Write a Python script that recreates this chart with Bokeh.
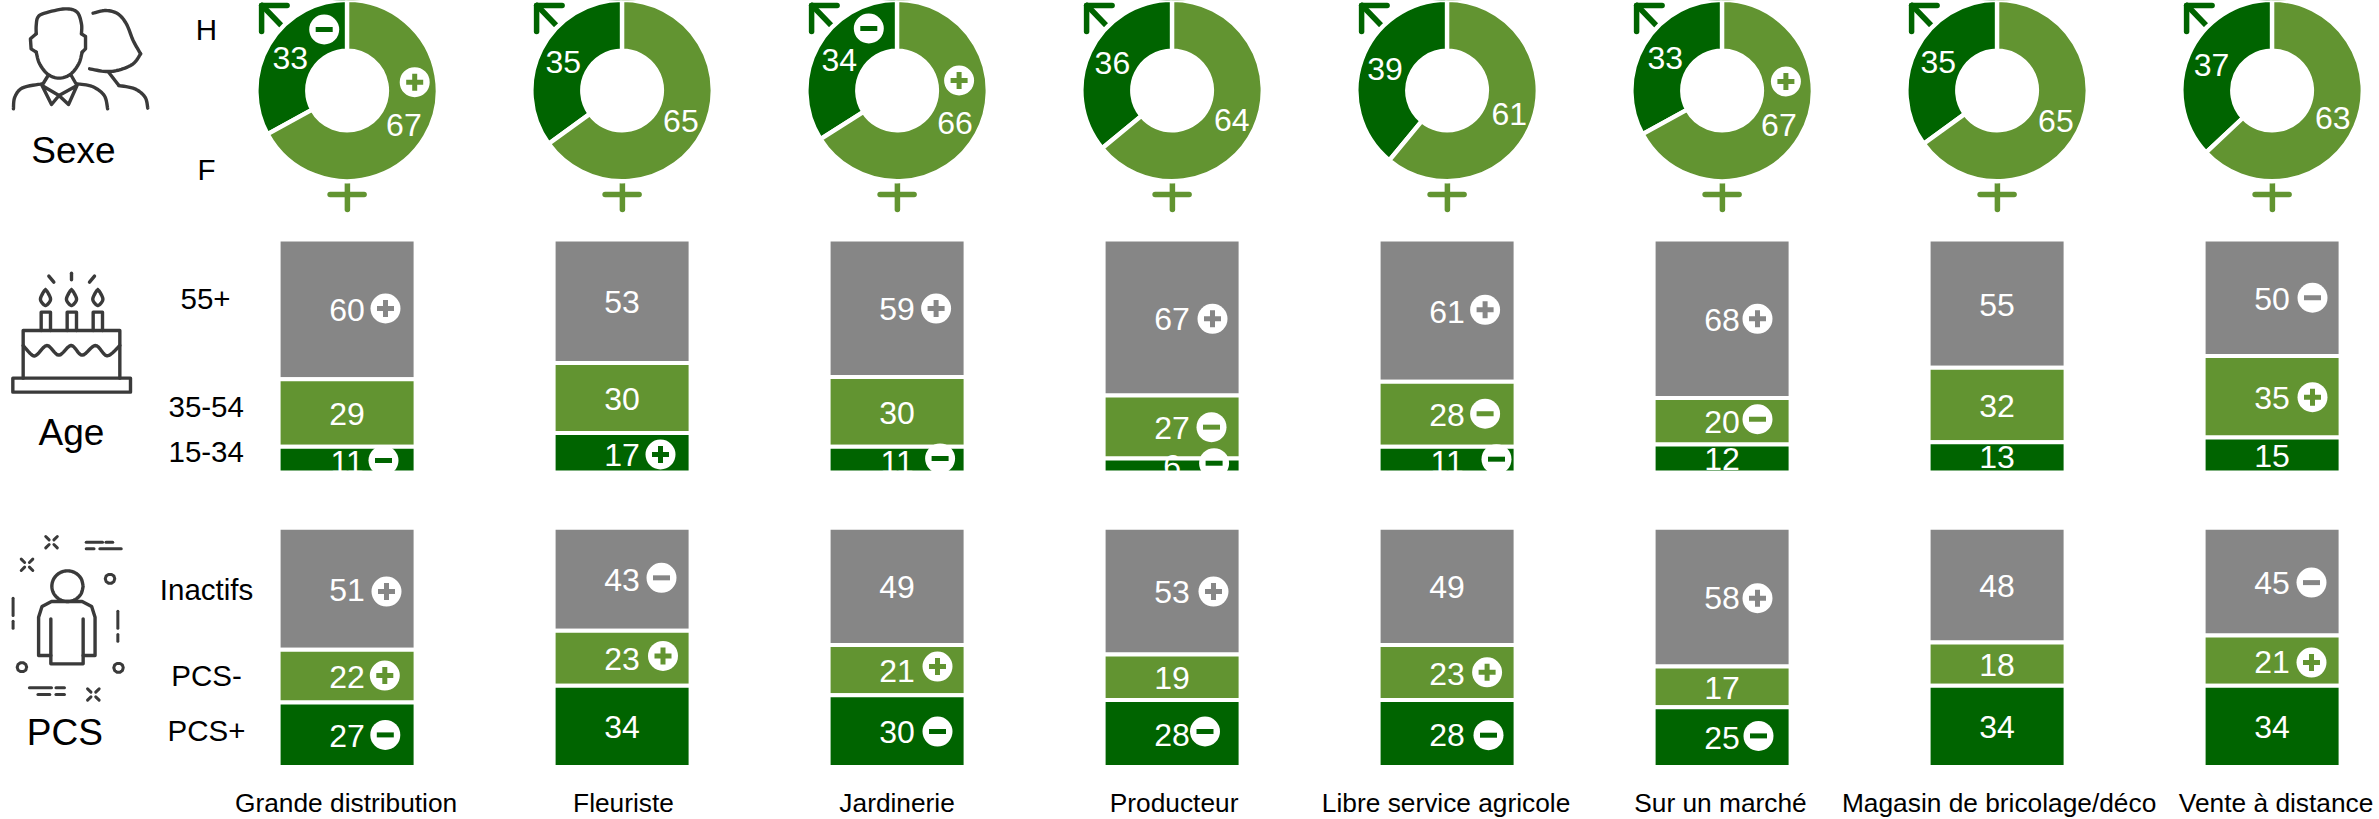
import math
from bokeh.plotting import figure
from bokeh.models import Range1d
from bokeh.core.properties import value
from bokeh.embed import file_html
from bokeh.resources import INLINE

# ---------------- data ----------------
channels = ["Grande distribution", "Fleuriste", "Jardinerie", "Producteur",
            "Libre service agricole", "Sur un marché", "Magasin de bricolage/déco", "Vente à distance"]
sex_h = [33, 35, 34, 36, 39, 33, 35, 37]
sex_f = [67, 65, 66, 64, 61, 67, 65, 63]
age_55 = [60, 53, 59, 67, 61, 68, 55, 50]
age_35 = [29, 30, 30, 27, 28, 20, 32, 35]
age_15 = [11, 17, 11, 6, 11, 12, 13, 15]
pcs_inactifs = [51, 43, 49, 53, 49, 58, 48, 45]
pcs_moins = [22, 23, 21, 19, 23, 17, 18, 21]
pcs_plus = [27, 34, 30, 28, 28, 25, 34, 34]
# significance marks: +1 / -1 / 0
sig_h = [-1, 0, -1, 0, 0, 0, 0, 0]
sig_f = [1, 0, 1, 0, 0, 1, 0, 0]
sig_55 = [1, 0, 1, 1, 1, 1, 0, -1]
sig_35 = [0, 0, 0, -1, -1, -1, 0, 1]
sig_15 = [-1, 1, -1, -1, -1, 0, 0, 0]
sig_in = [1, -1, 0, 1, 0, 1, 0, -1]
sig_mo = [1, 1, 1, 0, 1, 0, 0, 1]
sig_pl = [-1, 0, -1, -1, -1, -1, 0, 0]

# ---------------- layout ----------------
W, H = 2379, 819
DARK, LIGHT, GRAY, INK = "#006400", "#629431", "#868686", "#3a3a3a"
STEP, C0 = 275.0, 346.6
AGE_TOP, AGE_BOT = 239.0, 472.0
PCS_TOP, PCS_BOT = 527.3, 766.5
DONUT_Y, R_OUT, R_IN, R_LABEL = 90.0, 90.7, 39.8, 66.0
age_k = (AGE_BOT - AGE_TOP) / 100
pcs_k = (PCS_BOT - PCS_TOP) / 100
# badge placement (dx from bar centre, dy from segment centre), screen px
age_badge = {(0, 0): (38.4, -.9), (0, 2): (36.4, .8), (1, 2): (38.4, 1.8), (2, 0): (39, .3), (2, 2): (43, -1.2),
             (3, 0): (40.4, 1.3), (3, 1): (39.4, .1), (3, 2): (42, -2.3), (4, 0): (38, -.7), (4, 1): (38, -.5),
             (4, 2): (49.4, -.5), (5, 0): (35.4, .1), (5, 1): (35.4, -2), (7, 0): (40.4, 0), (7, 1): (40.4, .4)}
pcs_badge = {(0, 0): (39.4, 2.8), (0, 1): (37.7, -.5), (0, 2): (38.2, .2), (1, 0): (39.4, -1.4), (1, 1): (40.9, -2.2),
             (2, 1): (40.4, -3.5), (2, 2): (40.4, .4), (3, 0): (41.4, .4), (3, 2): (32.9, -2), (4, 1): (40, -.2),
             (4, 2): (41.4, 1.7), (5, 0): (35.4, 1.1), (5, 2): (36.4, -1.2), (7, 0): (39.4, 1), (7, 1): (39.4, 2)}
donut_badge = {(0, 0): (-22.9, -61), (0, 1): (67.6, -8.3), (2, 0): (-28.3, -62), (2, 1): (62, -10), (5, 1): (63.8, -9)}
label_extra_dy = {(0, 2): 1.5, (1, 2): 1, (2, 2): 1.5, (4, 2): 1.5, (3, 2): -1, (5, 2): -1, (6, 2): -1}
cat_dx = [-1, 1.4, 0, 2, -1, -1.6, 2, 4]

p = figure(width=W, height=H, output_backend="svg", toolbar_location=None,
           x_axis_type=None, y_axis_type=None, min_border=0,
           x_range=Range1d(-C0 / STEP, (W - C0) / STEP), y_range=Range1d(H, 0),
           outline_line_color=None, background_fill_color=None, border_fill_color=None)
p.grid.visible = False
p.extra_x_ranges["px"] = Range1d(0, W)
p.extra_y_ranges["age"] = Range1d((AGE_BOT - H) / age_k, AGE_BOT / age_k)
p.extra_y_ranges["pcs"] = Range1d((PCS_BOT - H) / pcs_k, PCS_BOT / pcs_k)

n = len(channels)
idx = list(range(n))


def badges(xs, ys, signs, colors, y_range=None):
    kw = {"y_range_name": y_range} if y_range else {}
    p.scatter(xs, ys, marker="circle", size=30, fill_color="white", line_color=None, **kw)
    for s, mk, lw in ((1, "cross", 5), (-1, "dash", 5)):
        sel = [j for j, v in enumerate(signs) if v == s]
        if sel:
            p.scatter([xs[j] for j in sel], [ys[j] for j in sel], marker=mk, size=17, fill_color=None,
                      line_color=[colors[j] for j in sel], line_width=lw, **kw)


def px_line(xs, ys, color=INK, lw=3.4):
    p.line(xs, ys, x_range_name="px", line_color=color, line_width=lw, line_cap="round", line_join="round")


def smooth(pts, steps=8):
    out = []
    m = len(pts)
    for k in range(m - 1):
        a, b, c, d = pts[max(k - 1, 0)], pts[k], pts[k + 1], pts[min(k + 2, m - 1)]
        for t in [q / steps for q in range(steps)]:
            f = lambda u: 0.5 * (2 * b[u] + (c[u] - a[u]) * t + (2 * a[u] - 5 * b[u] + 4 * c[u] - d[u]) * t * t
                                 + (3 * b[u] - a[u] - 3 * c[u] + d[u]) * t ** 3)
            out.append((f(0), f(1)))
    out.append(pts[-1])
    return out


def icon(pts, sx, ox, oy, sm=False, lw=3.4):
    if sm:
        pts = smooth(pts)
    px_line([ox + a / sx for a, b in pts], [oy + b / 3 for a, b in pts], lw=lw)


# ---------------- donuts ----------------
# male arrow and female cross sit under the ring
arrow_segs = [(-85.5, 31, -85.5, 5), (-85.5, 5, -60, 5), (-85, 5, -60, 31)]
cross_segs = [(0.3, 170, 0.3, 209), (-17, 194, 17, 194)]
for segs, col in ((arrow_segs, DARK), (cross_segs, LIGHT)):
    x0, y0, x1, y1 = [], [], [], []
    for i in idx:
        for a, b, c, d in segs:
            x0.append(i + a / STEP); y0.append(b); x1.append(i + c / STEP); y1.append(d)
    p.segment(x0, y0, x1, y1, line_color=col, line_width=5.5, line_cap="round")

dark_end = [math.pi / 2 + h / 100 * 2 * math.pi for h in sex_h]
p.annular_wedge(idx, [DONUT_Y] * n, inner_radius=R_IN, outer_radius=R_OUT, inner_radius_units="screen",
                outer_radius_units="screen", start_angle=[math.pi / 2] * n, end_angle=dark_end,
                fill_color=DARK, line_color="white", line_width=4.4)
p.annular_wedge(idx, [DONUT_Y] * n, inner_radius=R_IN, outer_radius=R_OUT, inner_radius_units="screen",
                outer_radius_units="screen", start_angle=dark_end, end_angle=[math.pi / 2 + 2 * math.pi] * n,
                fill_color=LIGHT, line_color="white", line_width=4.4)

tx, ty, tt, ox, oy = [], [], [], [], []
for i in idx:
    for v, ang in ((sex_h[i], -sex_h[i] / 2 * 3.6), (sex_f[i], sex_f[i] / 2 * 3.6)):
        a = math.radians(ang)
        tx.append(i); ty.append(DONUT_Y); tt.append(str(v))
        ox.append(R_LABEL * math.sin(a)); oy.append(-R_LABEL * math.cos(a) + 1)
p.text(tx, ty, text=tt, x_offset=ox, y_offset=oy, text_color="white", text_font=value("Liberation Sans"),
       text_font_size="32px", text_align="center", text_baseline="middle")

bx, by, bs, bc = [], [], [], []
for i in idx:
    for seg, sg, col in ((0, sig_h[i], DARK), (1, sig_f[i], LIGHT)):
        if sg:
            dx, dy = donut_badge[(i, seg)]
            bx.append(i + dx / STEP); by.append(DONUT_Y + dy); bs.append(sg); bc.append(col)
badges(bx, by, bs, bc)


# ---------------- stacked bars ----------------
def stacks(top_vals, mid_vals, low_vals, top_sig, mid_sig, low_sig, rng, k, badge_tbl, extra):
    cols = (GRAY, LIGHT, DARK)
    seg_b = [[m + l for m, l in zip(mid_vals, low_vals)], list(low_vals), [0] * n]
    vals = [top_vals, mid_vals, low_vals]
    sigs = [top_sig, mid_sig, low_sig]
    for s in range(3):
        p.vbar(x=idx, bottom=seg_b[s], top=[b + v for b, v in zip(seg_b[s], vals[s])], width=137 / STEP,
               y_range_name=rng, fill_color=cols[s], line_color="white", line_width=4)
    tx, ty, tt, oy, bx, by, bs, bc = [], [], [], [], [], [], [], []
    for s in range(3):
        for i in idx:
            mid = seg_b[s][i] + vals[s][i] / 2
            tx.append(i); ty.append(mid); tt.append(str(vals[s][i]))
            oy.append(1 + extra.get((i, s), 0))
            if sigs[s][i]:
                dx, dy = badge_tbl[(i, s)]
                bx.append(i + dx / STEP); by.append(mid - dy / k); bs.append(sigs[s][i]); bc.append(cols[s])
    p.text(tx, ty, text=tt, y_offset=oy, y_range_name=rng, text_color="white", text_font=value("Liberation Sans"),
           text_font_size="32px", text_align="center", text_baseline="middle")
    badges(bx, by, bs, bc, y_range=rng)


stacks(age_55, age_35, age_15, sig_55, sig_35, sig_15, "age", age_k, age_badge, label_extra_dy)
stacks(pcs_inactifs, pcs_moins, pcs_plus, sig_in, sig_mo, sig_pl, "pcs", pcs_k, pcs_badge, {})

# ---------------- texts ----------------
p.text(idx, [802.7] * n, text=channels, x_offset=cat_dx, text_color="black", text_font=value("Liberation Sans"),
       text_font_size="26.3px", text_align="center", text_baseline="middle")
row_labels = ["H", "F", "55+", "35-54", "15-34", "Inactifs", "PCS-", "PCS+"]
row_x = [206, 206, 205, 205.7, 205.7, 206, 206, 206]
row_y = [29, 169, 298, 406, 451.7, 589, 675, 730]
p.text(row_x, row_y, text=row_labels, x_range_name="px", text_color="black", text_font=value("Liberation Sans"),
       text_font_size="29.5px", text_align="center", text_baseline="middle")
heads = ["Sexe", "Age", "PCS"]
p.text([73, 71, 64.3], [150, 432, 731.7], text=heads, x_range_name="px", text_color="black",
       text_font=value("Liberation Sans"), text_font_size="37px", text_align="center", text_baseline="middle")

# ---------------- icons ----------------
# couple
S4 = 2.94
icon([(105, 100), (105, 75), (110, 50), (130, 38), (190, 25), (225, 35), (238, 70), (238, 100)], S4, 0, 0, True)
icon([(238, 100), (250, 108), (250, 145), (240, 155)], S4, 0, 0)
icon([(240, 155), (230, 190), (205, 222), (172, 233), (140, 222), (115, 190), (105, 155)], S4, 0, 0, True)
icon([(105, 155), (90, 145), (88, 115), (105, 100)], S4, 0, 0)
icon([(38, 325), (42, 290), (65, 262), (122, 250)], S4, 0, 0, True)
icon([(140, 225), (122, 255), (150, 312), (172, 285), (122, 255)], S4, 0, 0)
icon([(208, 225), (225, 255), (200, 312), (172, 285), (225, 255)], S4, 0, 0)
icon([(225, 250), (270, 258), (305, 285), (315, 325)], S4, 0, 0, True)
icon([(272, 38), (310, 30), (345, 40), (370, 70), (390, 120), (412, 160)], S4, 0, 0, True)
icon([(412, 160), (390, 190), (350, 208), (310, 213), (262, 205)], S4, 0, 0, True)
icon([(318, 215), (348, 255)], S4, 0, 0)
icon([(348, 255), (395, 265), (425, 290), (433, 323)], S4, 0, 0, True)

# cake
icon([(37, 383), (390, 383), (390, 425), (37, 425), (37, 383)], 3, 0, 250)
icon([(68, 383), (68, 240), (358, 240), (358, 383)], 3, 0, 250)
for a in (122, 200, 278):
    icon([(a, 240), (a, 185), (a + 28, 185), (a + 28, 240)], 3, 0, 250)
for a in (135, 213, 292):
    icon([(a, 117), (a - 8, 128), (a - 15, 148), (a, 165), (a + 15, 148), (a + 8, 128), (a, 117)], 3, 0, 250, True)
icon([(145, 77), (160, 95)], 3, 0, 250)
icon([(213, 68), (213, 88)], 3, 0, 250)
icon([(282, 77), (267, 95)], 3, 0, 250)
icon([(68, 285), (95, 314), (110, 312), (140, 285), (175, 314), (212, 285), (245, 314), (285, 285), (320, 316), (358, 285)],
     3, 0, 250, True)

# person
icon([(197 + 46 * math.cos(t / 12 * 2 * math.pi), 197 + 46 * math.sin(t / 12 * 2 * math.pi)) for t in range(13)],
     S4, 0, 520, True)
icon([(148, 405), (112, 405), (112, 290), (122, 258), (150, 243), (240, 243), (268, 258), (278, 290), (278, 405), (243, 405)],
     S4, 0, 520)
icon([(148, 295), (148, 430), (243, 430), (243, 295)], S4, 0, 520)
for cxr, cyr in ((322, 175), (63, 440), (347, 442)):
    icon([(cxr + 14 * math.cos(t / 10 * 2 * math.pi), cyr + 14 * math.sin(t / 10 * 2 * math.pi)) for t in range(11)],
         S4, 0, 520, lw=3)
for seg in ([(252, 65), (300, 65)], [(310, 65), (330, 65)], [(252, 85), (275, 85)], [(292, 85), (355, 85)],
            [(37, 233), (37, 285)], [(37, 302), (37, 323)], [(345, 272), (345, 323)], [(345, 342), (345, 362)],
            [(85, 502), (150, 502)], [(163, 502), (188, 502)], [(110, 522), (145, 522)], [(163, 522), (188, 522)]):
    icon(seg, S4, 0, 520, lw=3)
for xc, yc in ((150, 65), (78, 133), (273, 522)):
    for dx, dy in ((-1, -1), (1, -1), (-1, 1), (1, 1)):
        icon([(xc + dx * 7, yc + dy * 7), (xc + dx * 17, yc + dy * 17)], S4, 0, 520, lw=3)

open("out.html", "w").write(file_html(p, INLINE))
